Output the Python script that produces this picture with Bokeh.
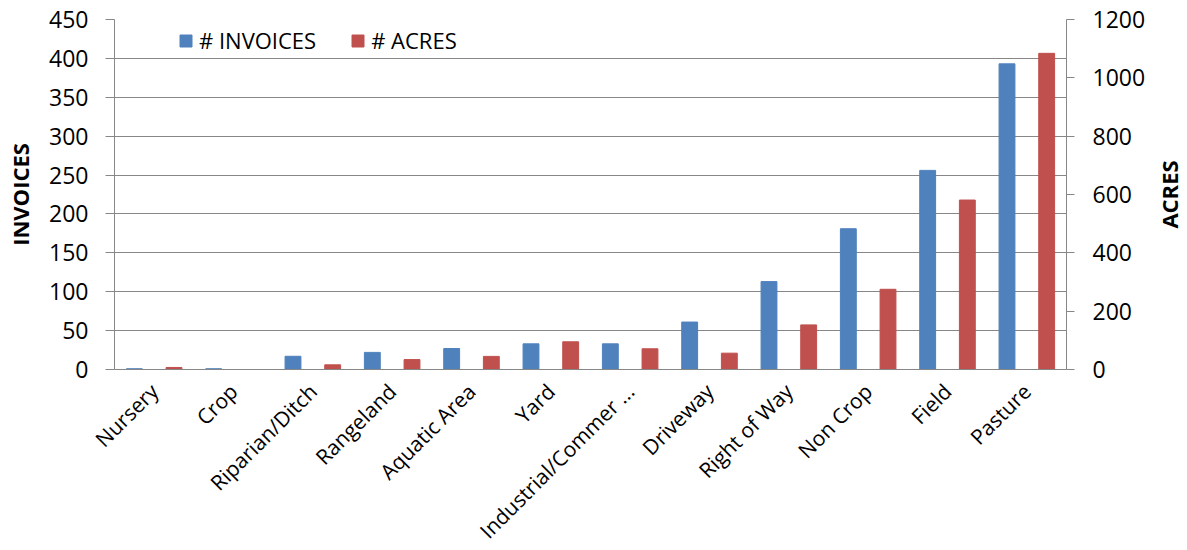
from math import pi
from bokeh.plotting import figure
from bokeh.layouts import row
from bokeh.models import Range1d, LinearAxis, FixedTicker, Legend, LegendItem
from bokeh.embed import file_html
from bokeh.resources import INLINE

categories = ["Nursery", "Crop", "Riparian/Ditch", "Rangeland", "Aquatic Area", "Yard",
              "Industrial/Commer ...", "Driveway", "Right of Way", "Non Crop", "Field", "Pasture"]
invoices = [1, 1, 17, 22, 27, 33, 33, 61, 113, 181, 256, 393]
acres = [7, 0, 16, 34, 45, 95, 71, 56, 153, 275, 581, 1084]
left_ticks = [0, 50, 100, 150, 200, 250, 300, 350, 400, 450]
right_ticks = [0, 200, 400, 600, 800, 1000, 1200]
left_title = "INVOICES"
right_title = "ACRES"

BLUE = "#4F81BD"
RED = "#C0504D"
GRID = "#878787"
FONT = "Open Sans"
FS = "23px"
FS_X = "21px"
FS_LEG = "22px"

idx = list(range(len(categories)))
p = figure(frame_width=952, frame_height=350, output_backend="svg", toolbar_location=None,
           x_range=Range1d(-0.5, len(categories) - 0.5), y_range=Range1d(0, 450),
           min_border_left=114, min_border_right=84, min_border_top=19, min_border_bottom=160,
           align="start")
p.extra_y_ranges = {"acres": Range1d(0, 1200)}
p.outline_line_color = None
p.background_fill_color = "white"
p.border_fill_color = "white"

r_inv = p.vbar(x=[i - 0.25 for i in idx], top=invoices, width=0.2, bottom=0,
               fill_color=BLUE, line_color=BLUE)
r_acr = p.vbar(x=[i + 0.25 for i in idx], top=acres, width=0.2, bottom=0,
               fill_color=RED, line_color=RED, y_range_name="acres")

p.xgrid.visible = False
p.ygrid.ticker = FixedTicker(ticks=left_ticks)
p.ygrid.grid_line_color = GRID
p.ygrid.grid_line_width = 1

# left axis
ya = p.yaxis[0]
ya.ticker = FixedTicker(ticks=left_ticks)
ya.axis_line_color = GRID
ya.major_tick_line_color = GRID
ya.major_tick_out = 9
ya.major_tick_in = 0
ya.minor_tick_line_color = None
ya.major_label_text_font = FONT
ya.major_label_text_font_size = FS
ya.major_label_text_color = "black"
ya.major_label_standoff = 17
ya.axis_label = left_title
ya.axis_label_text_font = FONT
ya.axis_label_text_font_size = FS_LEG
ya.axis_label_text_font_style = "bold"
ya.axis_label_text_color = "black"
ya.axis_label_standoff = 11

# right axis
ra = LinearAxis(y_range_name="acres", ticker=FixedTicker(ticks=right_ticks))
ra.axis_line_color = GRID
ra.major_tick_line_color = GRID
ra.major_tick_out = 8
ra.major_tick_in = 0
ra.minor_tick_line_color = None
ra.major_label_text_font = FONT
ra.major_label_text_font_size = FS
ra.major_label_text_color = "black"
ra.major_label_standoff = 18
p.add_layout(ra, "right")

# bottom axis
xa = p.xaxis[0]
xa.ticker = FixedTicker(ticks=idx)
xa.major_label_overrides = {i: c for i, c in zip(idx, categories)}
xa.axis_line_color = GRID
xa.major_tick_line_color = None
xa.minor_tick_line_color = None
xa.major_label_orientation = pi / 4
xa.major_label_text_font = FONT
xa.major_label_text_font_size = FS_X
xa.major_label_text_color = "black"
xa.major_label_standoff = 12

legend = Legend(items=[LegendItem(label="# INVOICES", renderers=[r_inv]),
                       LegendItem(label="# ACRES", renderers=[r_acr])],
                orientation="horizontal", location=(64, 314),
                glyph_width=15, glyph_height=15, label_standoff=6, spacing=34,
                padding=0, margin=0, border_line_color=None, background_fill_alpha=0,
                label_text_font=FONT, label_text_font_size=FS_LEG, label_text_color="black")
p.add_layout(legend)

# narrow side panel whose (otherwise empty) left axis carries the right-hand title,
# so it reads bottom to top and is centred on the same frame height as the chart
side = figure(frame_width=1, frame_height=350, output_backend="svg", toolbar_location=None,
              x_range=Range1d(0, 1), y_range=p.y_range, x_axis_location=None,
              min_border_left=0, min_border_right=0, min_border_top=19, min_border_bottom=0,
              align="start")
side.outline_line_color = None
side.grid.visible = False
side.background_fill_color = "white"
side.border_fill_color = "white"
sa = side.yaxis[0]
sa.ticker = FixedTicker(ticks=[])
sa.axis_line_color = None
sa.major_tick_line_color = None
sa.minor_tick_line_color = None
sa.major_label_standoff = 0
sa.major_tick_out = 0
sa.axis_label = right_title
sa.axis_label_text_font = FONT
sa.axis_label_text_font_size = FS_LEG
sa.axis_label_text_font_style = "bold"
sa.axis_label_text_color = "black"
sa.axis_label_standoff = 0

layout = row(p, side, spacing=0)
open("out.html", "w").write(file_html(layout, INLINE))
